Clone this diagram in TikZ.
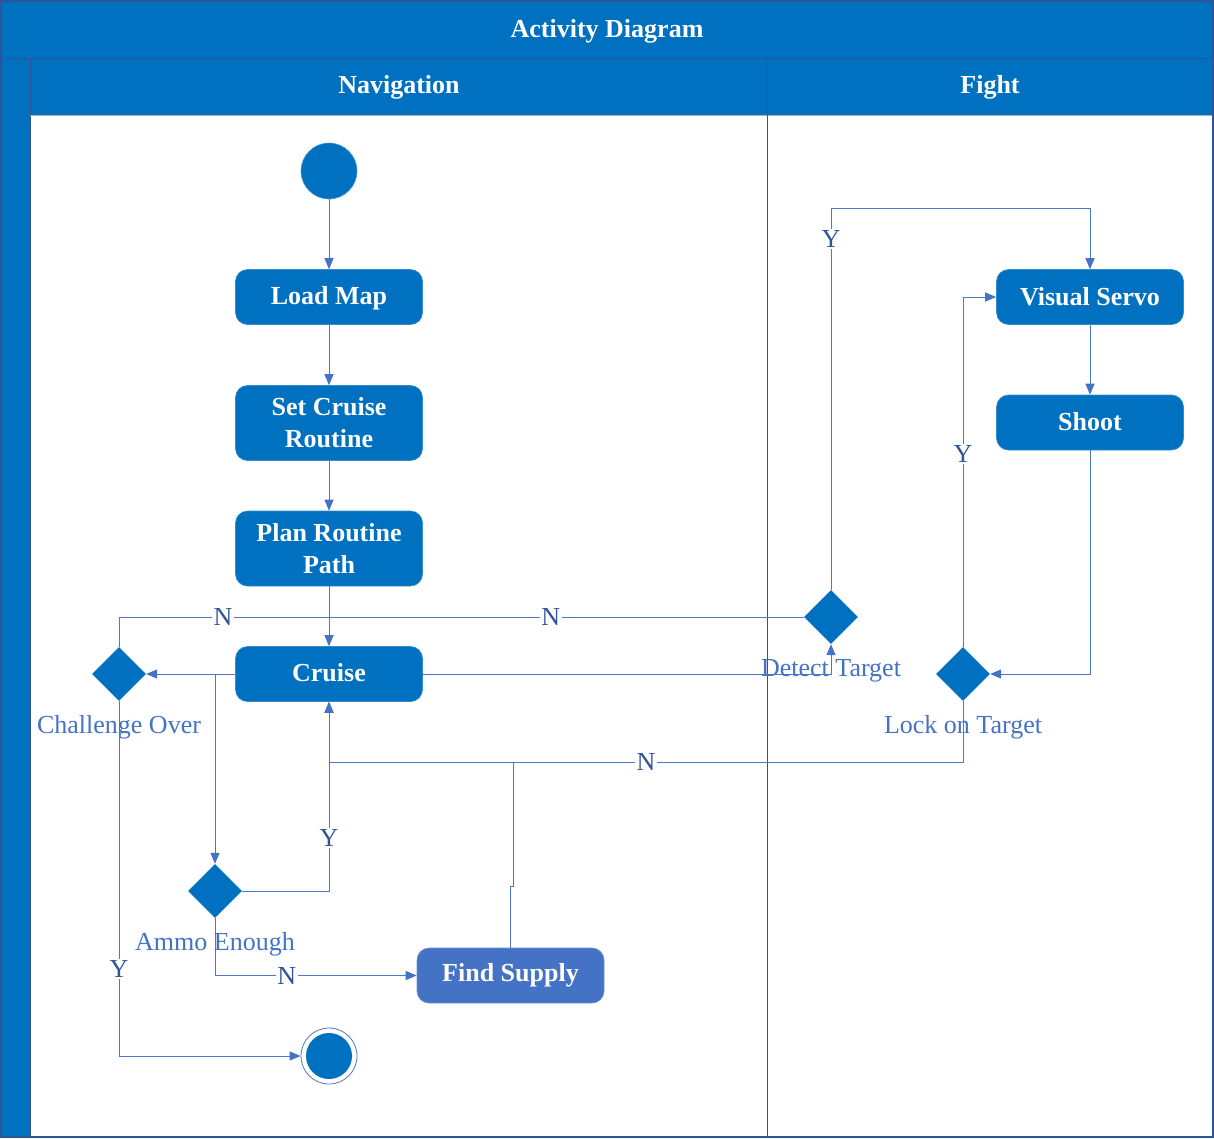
\documentclass[tikz,border=0pt]{standalone}
\usepackage{fontspec}
\setmainfont{Liberation Serif}
\usetikzlibrary{shapes.geometric,arrows.meta,calc}
\definecolor{mainblue}{RGB}{0,112,192}
\definecolor{supblue}{RGB}{68,114,196}
\definecolor{framecol}{RGB}{47,85,151}
\definecolor{linecol}{RGB}{78,120,198}
\definecolor{arrcol}{RGB}{68,114,196}
\definecolor{lblcol}{RGB}{47,85,151}
\definecolor{dlblcol}{RGB}{68,114,196}
\begin{document}
\begin{tikzpicture}[x=1pt,y=-1pt,
  hdr/.style={text=white,font=\bfseries\fontsize{26}{32}\selectfont,inner sep=0pt},
  actbox/.style={rounded corners=12pt,fill=mainblue,draw=mainblue!80!white,line width=0.6pt,
     minimum width=187pt,text=white,align=center,font=\bfseries\fontsize{26}{32}\selectfont,inner sep=2pt},
  conn/.style={draw=linecol,line width=1pt,-{Triangle[length=11pt,width=9pt,color=arrcol]}},
  plainln/.style={draw=linecol,line width=1pt},
  yn/.style={fill=white,inner sep=1.5pt,text=lblcol,font=\fontsize{26}{30}\selectfont},
  dlbl/.style={text=dlblcol,font=\fontsize{26}{30}\selectfont,inner sep=0pt},
  decision/.style={diamond,aspect=1,fill=mainblue,minimum width=54pt,minimum height=54pt,inner sep=0pt},
]
\useasboundingbox (0,0) rectangle (1214,1138);
% background and swimlanes
\fill[mainblue] (0,0) rectangle (1214,115);
\fill[mainblue] (0,58) rectangle (30,1138);
\draw[framecol,line width=1pt] (0,58) -- (1214,58);
\draw[framecol,line width=1pt] (30,58) -- (30,1138);
\draw[gray!60,line width=0.8pt] (30,115) -- (1214,115);
\draw[framecol,line width=1pt] (767,58) -- (767,1138);
\draw[framecol,line width=1.6pt] (0.8,0.8) rectangle (1213.2,1137.2);
\node[hdr] (title) at (607,31) {Activity Diagram};
\node[hdr] (navh) at (399,87) {Navigation};
\node[hdr] (fighth) at (990,87) {Fight};

% nodes
\node[circle,fill=mainblue,draw=mainblue!70!white,line width=0.6pt,minimum size=56pt,inner sep=0pt] (start) at (329,171) {};
\node[actbox,minimum height=55pt,text depth=3pt] (load) at (329,297) {Load Map};
\node[actbox,minimum height=75pt] (setc) at (329,423) {Set Cruise\\Routine};
\node[actbox,minimum height=75pt] (plan) at (329,548.5) {Plan Routine\\Path};
\node[actbox,minimum height=55pt,text depth=3pt] (cruise) at (329,674) {Cruise};
\node[decision] (chal) at (119,674) {};
\node[decision] (ammo) at (215,891) {};
\node[actbox,minimum height=55pt,fill=supblue,draw=supblue!80!white] (supply) at (510.5,975.5) {Find Supply};
\node[circle,fill=white,draw=linecol,line width=0.8pt,minimum size=56pt,inner sep=0pt] (end) at (329,1056) {};
\node[circle,fill=mainblue,minimum size=46pt,inner sep=0pt] (endin) at (329,1056) {};
\node[decision] (detect) at (831,617) {};
\node[decision] (lock) at (963,674) {};
\node[actbox,minimum height=55pt] (servo) at (1090,297) {Visual Servo};
\node[actbox,minimum height=55pt,text depth=3pt] (shoot) at (1090,422.5) {Shoot};

\coordinate (jn) at (329,617);
\coordinate (jb) at (329,762);

% connectors
\draw[conn] (start) -- (load);
\draw[conn] (load) -- (setc);
\draw[conn] (setc) -- (plan);
\draw[conn] (plan) -- (cruise);
\draw[conn] (cruise.west) -- (chal.east);
\draw[conn] (cruise.east) -| (detect.south);
\draw[plainln] (chal.north) -- (chal.north |- jn) -- node[yn,pos=0.495] (n1) {N} (jn);
\draw[plainln] (detect.west) -- node[yn,pos=0.533] (n2) {N} (jn);
\draw[conn] (chal.south) -- node[yn,pos=0.755] (y1) {Y} (chal.south |- end.west) -- (end.west);
\draw[conn] (cruise.west -| ammo.north) -- (ammo.north);
\draw[conn] (ammo.east) -- (ammo.east -| cruise.south) -- node[yn,pos=0.28] (y2) {Y} (cruise.south);
\draw[conn] (ammo.south) -- (ammo.south |- supply.west) -- node[yn,pos=0.356] (n3) {N} (supply.west);
\draw[plainln] (supply.north) -- ++(0,-61) -- ++(3,0) |- (jb);
\draw[plainln] (lock.south) -- (lock.south |- jb) -- node[yn,pos=0.5] (n4) {N} (jb);
\draw[conn] (jb) -- (cruise.south);
\draw[conn] (detect.north) -- node[yn,pos=0.921] (y3) {Y} ++(0,-381) -| (servo.north);
\draw[conn] (lock.north) -- node[yn,pos=0.551] (y4) {Y} (lock.north |- servo.west) -- (servo.west);
\draw[conn] (servo) -- (shoot);
\draw[conn] (shoot.south) |- (lock.east);

% decision labels
\node[dlbl] (chall) at (119,727) {Challenge Over};
\node[dlbl] (ammol) at (215,944) {Ammo Enough};
\node[dlbl] (detl) at (831,671) {Detect Target};
\node[dlbl] (lockl) at (963,727) {Lock on Target};
\end{tikzpicture}
\end{document}
